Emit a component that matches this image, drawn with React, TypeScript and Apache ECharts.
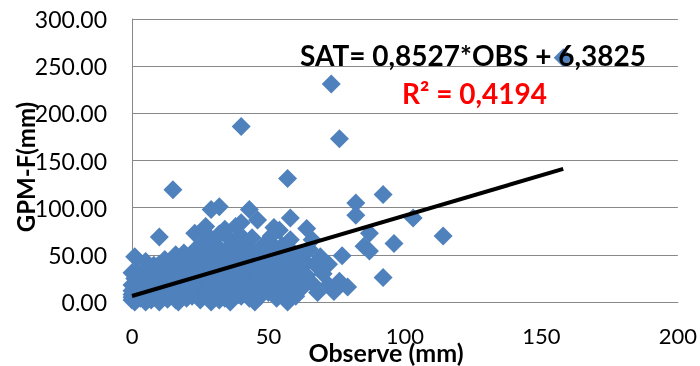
import React, { useEffect, useRef } from "react";
import * as echarts from "echarts";

const obs: number[] = [
  158, 73, 40, 76, 57, 15, 92, 82, 82, 103, 114, 96, 87, 85, 87, 77, 72, 92, 72, 76, 79, 74,
  64, 66, 58, 63, 57, 60, 54, 58, 52, 46, 43, 32, 29, 10, 1, 23, 27, 34, 38, 40, 51, 44, 38,
  19, 16, 12, 8, 5, 0, 2, 58, 56, 60, 46, 49, 40, 32, 24, 16, 7, 29, 36, 45, 57,
  0, 0, 0, 0, 0, 1, 1, 2, 2, 3, 3, 4, 4, 5, 5, 6, 6, 7, 8, 8, 9, 9, 10, 10, 10,
  11, 11, 12, 12, 13, 13, 14, 14, 15, 15, 16, 17, 17, 18, 18, 19, 19, 20, 20, 20,
  21, 21, 22, 22, 23, 23, 24, 24, 25, 25, 26, 26, 27, 27, 28, 28, 29, 29, 30, 30,
  31, 31, 32, 32, 33, 33, 34, 34, 35, 35, 36, 36, 37, 37, 38, 38, 39, 39, 40, 40,
  41, 41, 42, 42, 43, 43, 44, 44, 45, 45, 46, 47, 47, 48, 48, 49, 50, 50, 50, 51,
  52, 52, 53, 53, 54, 54, 55, 55, 56, 56, 57, 57, 58, 58, 59, 59, 60, 60, 61, 62,
  62, 63, 64, 65, 66, 67, 68, 70, 69,
];
const gpm: number[] = [
  259, 231, 186, 173, 131, 119, 114, 105, 92, 89, 70, 62, 73, 59, 54, 49, 40, 26, 18, 22, 16, 11,
  78, 66, 66, 25, 1, 41, 76, 89, 79, 87, 98, 101, 98, 69, 48, 73, 80, 77, 80, 84, 62, 55, 62,
  52, 50, 45, 39, 43, 31, 32, 48, 38, 20, 24, 13, 6, 2, 6, 2, 2, 0, 0, 0, 0,
  2, 5, 8, 12, 18, 0, 25, 10, 15, 4, 20, 28, 8, 0, 14, 22, 35, 10, 5, 28, 18, 33, 0, 12, 40,
  25, 6, 18, 34, 3, 28, 12, 40, 22, 8, 32, 15, 0, 26, 45, 10, 36, 4, 20, 48,
  14, 30, 40, 6, 24, 55, 16, 35, 48, 2, 28, 62, 10, 42, 20, 70, 34, 52, 8, 26,
  40, 60, 15, 72, 30, 48, 4, 22, 56, 38, 10, 66, 28, 46, 18, 34, 52, 8, 25, 70,
  14, 44, 32, 58, 4, 20, 38, 68, 12, 50, 28, 6, 42, 20, 60, 34, 10, 46, 26, 70,
  16, 38, 54, 4, 28, 44, 12, 60, 22, 50, 32, 8, 14, 56, 40, 26, 6, 30, 50, 36,
  14, 44, 28, 56, 20, 40, 10, 30, 48,
];

// Linear fit shown on the chart
const slope = 0.8527;
const intercept = 6.3825;
const equationText = "SAT= 0,8527*OBS + 6,3825";
const r2Text = "R² = 0,4194";

const xTicks = { min: 0, max: 200, interval: 50 };
const yTicks = { min: 0, max: 300, interval: 50 };

export default function App() {
  const ref = useRef<HTMLDivElement>(null);
  useEffect(() => {
    if (!ref.current) return;
    const chart = echarts.init(ref.current, null, { renderer: "svg" });
    const points = obs.map((x, i) => [x, gpm[i]]);
    const xMin = Math.min(...obs);
    const xMax = Math.max(...obs);
    const trend = [
      [xMin, slope * xMin + intercept],
      [xMax, slope * xMax + intercept],
    ];
    const font = "Lato, 'Open Sans', sans-serif";
    chart.setOption({
      animation: false,
      grid: { left: 132, right: 22, top: 19, bottom: 64 },
      xAxis: {
        type: "value",
        min: xTicks.min,
        max: xTicks.max,
        interval: xTicks.interval,
        splitLine: { show: false },
        axisLine: { show: true, lineStyle: { color: "#888", width: 1 } },
        axisTick: { show: false },
        axisLabel: { fontSize: 22, color: "#000", margin: 22, fontFamily: font },
      },
      yAxis: {
        type: "value",
        min: yTicks.min,
        max: yTicks.max,
        interval: yTicks.interval,
        splitLine: { show: true, lineStyle: { color: "#888", width: 1 } },
        axisLine: { show: true, lineStyle: { color: "#888", width: 1 } },
        axisTick: { show: false },
        axisLabel: {
          fontSize: 23,
          color: "#000",
          margin: 25,
          fontFamily: font,
          formatter: (v: number) => v.toFixed(2),
        },
      },
      series: [
        {
          type: "scatter",
          data: points,
          symbol: "diamond",
          symbolSize: 19,
          itemStyle: { color: "#4F81BD", opacity: 1 },
          z: 2,
        },
        {
          type: "line",
          data: trend,
          symbol: "none",
          lineStyle: { color: "#000", width: 4 },
          z: 3,
        },
      ],
      graphic: [
        {
          type: "text",
          x: 300,
          y: 55,
          style: {
            text: equationText,
            fontSize: 28,
            fontWeight: "bold",
            fontFamily: font,
            fill: "#000",
            textAlign: "left",
            textVerticalAlign: "middle",
          },
          z: 100,
        },
        {
          type: "text",
          x: 402,
          y: 93,
          style: {
            text: r2Text,
            fontSize: 28,
            fontWeight: "bold",
            fontFamily: font,
            fill: "#FF0000",
            textAlign: "left",
            textVerticalAlign: "middle",
          },
          z: 100,
        },
        {
          type: "text",
          x: 386,
          y: 352,
          style: {
            text: "Observe (mm)",
            fontSize: 25,
            fontWeight: "bold",
            fontFamily: font,
            fill: "#000",
            textAlign: "center",
            textVerticalAlign: "middle",
          },
          z: 100,
        },
        {
          type: "text",
          x: 25,
          y: 167,
          rotation: Math.PI / 2,
          style: {
            text: "GPM-F(mm)",
            fontSize: 24,
            fontWeight: "bold",
            fontFamily: font,
            fill: "#000",
            textAlign: "center",
            textVerticalAlign: "middle",
          },
          z: 100,
        },
      ],
    });
    return () => chart.dispose();
  }, []);
  return (
    <div
      ref={ref}
      style={{ position: "fixed", left: 0, top: 0, width: 700, height: 366 }}
    />
  );
}
